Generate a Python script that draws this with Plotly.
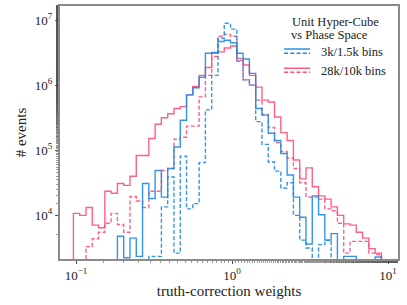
import numpy as np
import plotly.graph_objects as go

# ---- data (log10 of event counts per log-spaced bin; None = empty bin) ----
BIN_START_LOG10 = -1.0171
BIN_WIDTH_LOG10 = 0.0403
N_BINS = 50

pink_solid = [4.03, 4.00, 4.12, 3.85, 3.81, 4.37, 4.34, 4.49, 4.46, 4.60,
              4.92, 4.92, 5.18, 5.40, 5.50, 5.56, 5.64, 5.67, 5.85, 5.98,
              6.15, 6.27, 6.49, 6.51, 6.57, 6.60, 6.41, 6.31, 6.15, 5.97,
              5.77, 5.74, 5.51, 5.27, 5.15, 4.85, 4.56, 4.73, 4.44, 4.30,
              4.25, 4.13, 4.00, 3.87, 3.85, 3.74, 3.65, 3.49, 3.42, None]

pink_dashed = [None, None, 3.52, 3.64, 3.74, 3.88, 4.03, 3.86, 3.74, 4.29,
               4.22, 4.12, 4.37, 4.37, 4.69, 4.72, 5.17, 5.20, 5.37, 5.37,
               5.82, 6.15, 6.44, 6.75, 6.78, 6.75, 6.38, 6.08, 6.00, 5.77,
               5.55, 5.35, 5.12, 4.98, 4.88, 4.72, 4.50, 4.28, 4.28, 4.25,
               4.10, 4.07, 3.88, 3.42, 3.60, 3.60, 3.60, 3.42, 3.40, None]

blue_solid = [None, None, None, None, None, None, None, 3.68, 3.35, 3.65,
              3.37, 4.49, 4.26, 4.69, 4.28, 4.72, 5.05, 5.46, 5.85, 5.96,
              6.12, 6.49, 6.50, 6.67, 6.69, 6.65, 6.49, 6.40, 6.18, 5.64,
              5.54, 5.26, 5.15, 4.95, 4.62, 4.28, 3.97, 3.56, 4.30, 4.01,
              3.62, 3.72, None, 3.37, 3.37, None, None, None, 3.36, None]

blue_dashed = [None, None, None, None, None, None, None, None, None, None,
               None, None, 3.37, 3.37, 4.13, 4.59, 3.42, 4.91, 4.10, 4.18,
               4.81, 5.62, 6.15, 6.72, 6.95, 6.86, 6.37, 6.08, 6.00, 5.44,
               5.09, 4.82, 4.68, 4.42, 4.50, 4.00, 3.62, 3.50, None, 3.55,
               3.62, None, None, None, None, None, None, None, None, None]

x_tick_vals = [0.1, 1, 10]
x_tick_text = ["10<sup>\u22121</sup>", "10<sup>0</sup>", "10<sup>1</sup>"]
y_tick_vals = [1e4, 1e5, 1e6, 1e7]
y_tick_text = ["10<sup>4</sup>", "10<sup>5</sup>", "10<sup>6</sup>", "10<sup>7</sup>"]

BLUE = "#1E88E5"
PINK = "#FF4F7B"
FONT = "Liberation Serif"
FLOOR = 1.0

edges = 10 ** (BIN_START_LOG10 + BIN_WIDTH_LOG10 * np.arange(N_BINS + 1))


def step_xy(log_vals):
    vals = [FLOOR if v is None else 10 ** v for v in log_vals]
    xs = [edges[0]] + list(edges[:-1]) + [edges[-1], edges[-1]]
    ys = [FLOOR] + vals + [vals[-1], FLOOR]
    return xs, ys


fig = go.Figure()
for vals, color, dash in [(pink_solid, PINK, "solid"), (pink_dashed, PINK, "4px,2.2px"),
                          (blue_solid, BLUE, "solid"), (blue_dashed, BLUE, "4px,2.2px")]:
    xs, ys = step_xy(vals)
    fig.add_trace(go.Scatter(x=xs, y=ys, mode="lines", line_shape="hv",
                             line=dict(color=color, width=1.4, dash=dash),
                             opacity=0.9, showlegend=False, hoverinfo="skip"))

axis_common = dict(type="log", showline=True, linecolor="#8a8a8a", linewidth=1.6,
                   mirror=True, showgrid=False, zeroline=False, ticks="outside",
                   ticklen=3.5, tickcolor="#333", tickwidth=0.8, automargin=False,
                   tickfont=dict(family=FONT, size=13, color="#222"),
                   minor=dict(ticks="outside", ticklen=2, tickcolor="#555", tickwidth=0.6))

fig.update_xaxes(range=[-1.103, 1.064], tickvals=x_tick_vals, ticktext=x_tick_text,
                 title=dict(text="truth-correction weights", standoff=4,
                            font=dict(family=FONT, size=15, color="#222")),
                 **axis_common)
fig.update_yaxes(range=[3.33, 7.215], tickvals=y_tick_vals, ticktext=y_tick_text,
                 title=dict(text="# events", standoff=4,
                            font=dict(family=FONT, size=15, color="#222")),
                 **axis_common)

# ---- manual legend (solid + dashed samples per entry) ----
legend_font = dict(family=FONT, size=12.5, color="#222")
fig.add_annotation(xref="paper", yref="paper", x=0.683, y=0.936, xanchor="left",
                   yanchor="middle", text="Unit Hyper-Cube", showarrow=False, font=legend_font,
                   borderpad=0)
fig.add_annotation(xref="paper", yref="paper", x=0.680, y=0.886, xanchor="left",
                   yanchor="middle", text="vs Phase Space", showarrow=False, font=legend_font,
                   borderpad=0)
for color, y_solid, y_dash, label, y_text in [(BLUE, 0.830, 0.813, "3k/1.5k bins", 0.817),
                                               (PINK, 0.754, 0.738, "28k/10k bins", 0.744)]:
    fig.add_shape(type="line", xref="paper", yref="paper", x0=0.663, x1=0.740,
                  y0=y_solid, y1=y_solid, line=dict(color=color, width=1.4))
    fig.add_shape(type="line", xref="paper", yref="paper", x0=0.663, x1=0.740,
                  y0=y_dash, y1=y_dash, line=dict(color=color, width=1.4, dash="4px,2.2px"))
    fig.add_annotation(xref="paper", yref="paper", x=0.766, y=y_text, xanchor="left",
                       yanchor="middle", text=label, showarrow=False, font=legend_font)

fig.update_layout(width=407, height=305, margin=dict(l=60, r=9, t=6, b=46),
                  plot_bgcolor="white", paper_bgcolor="white", showlegend=False)

fig.write_html("out.html", config={"displayModeBar": False, "staticPlot": True},
               post_script="document.body.style.margin='0';document.body.style.overflow='hidden';")
